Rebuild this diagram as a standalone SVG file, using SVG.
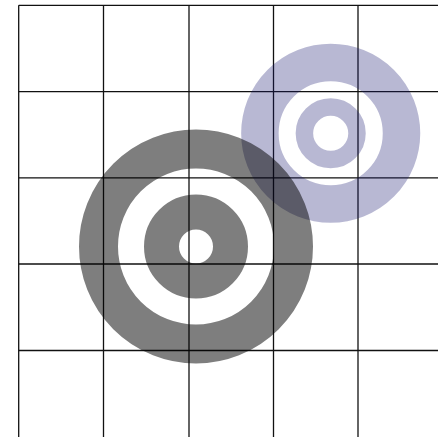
<svg xmlns="http://www.w3.org/2000/svg" width="438" height="437" viewBox="0 0 438 437">
<style>
.grid line{stroke:#111;stroke-width:1.3}
.ring{fill:none}
</style>
<rect width="438" height="437" fill="#fff"/>
<g id="grid" class="grid">
<line x1="18.7" y1="5.3" x2="438" y2="5.3"/>
<line x1="18.7" y1="91.7" x2="438" y2="91.7"/>
<line x1="18.7" y1="177.8" x2="438" y2="177.8"/>
<line x1="18.7" y1="264" x2="438" y2="264"/>
<line x1="18.7" y1="350.5" x2="438" y2="350.5"/>
<line x1="18.7" y1="5.3" x2="18.7" y2="437"/>
<line x1="103.5" y1="5.3" x2="103.5" y2="437"/>
<line x1="189" y1="5.3" x2="189" y2="437"/>
<line x1="273.5" y1="5.3" x2="273.5" y2="437"/>
<line x1="358" y1="5.3" x2="358" y2="437"/>
</g>
<g id="target-blue" opacity="0.3">
<circle class="ring" cx="330.7" cy="133.3" r="70.8" stroke="#191970" stroke-width="37.5"/>
<circle class="ring" cx="330.7" cy="133.3" r="26.3" stroke="#191970" stroke-width="17.5"/>
</g>
<g id="target-gray" opacity="0.5">
<circle class="ring" cx="196" cy="246.5" r="97.5" stroke="#000" stroke-width="39"/>
<circle class="ring" cx="196" cy="246.5" r="34.5" stroke="#000" stroke-width="35"/>
</g>
</svg>
